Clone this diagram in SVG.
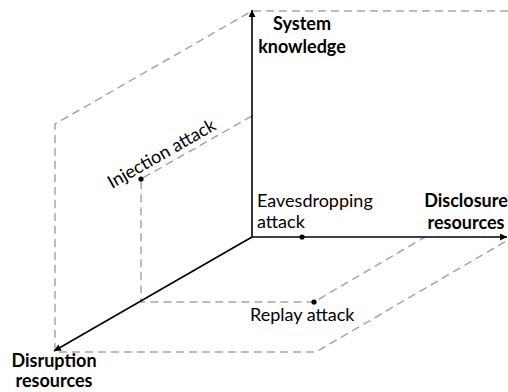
<svg xmlns="http://www.w3.org/2000/svg" width="508" height="392" viewBox="0 0 508 392">
<defs>
<style>
.axis{stroke:#000;stroke-width:1.6;fill:none}
.dash{stroke:#a6a6a6;stroke-width:1.5;fill:none;stroke-dasharray:8 5}
.t{font-family:Lato,"Liberation Sans",sans-serif;font-size:18px;fill:#000}
.b{font-weight:bold;text-anchor:middle}
.dot{fill:#000}
</style>
<marker id="arr" viewBox="0 0 10 10" refX="10" refY="5" markerWidth="10" markerHeight="7" markerUnits="userSpaceOnUse" orient="auto">
<path d="M0,0 L10,5 L0,10 Z" fill="#000"/>
</marker>
</defs>
<rect width="508" height="392" fill="#fff"/>
<g id="connectors">
<path class="dash" d="M508,11 L252,11 L55,124 L55,352 L316,352 L508,240"/>
<path class="dash" d="M252,116 L141,179 L141,302 L314,302 L425,237"/>
<line class="axis" x1="252" y1="237" x2="252" y2="10" marker-end="url(#arr)"/>
<line class="axis" x1="252" y1="237" x2="507" y2="237" marker-end="url(#arr)"/>
<line class="axis" x1="252" y1="237" x2="54" y2="351" marker-end="url(#arr)"/>
</g>
<g id="system-knowledge">
<text class="t b" x="302" y="30">System</text>
<text class="t b" x="302" y="53">knowledge</text>
</g>
<g id="disclosure-resources">
<text class="t b" x="466" y="207">Disclosure</text>
<text class="t b" x="466" y="229">resources</text>
</g>
<g id="disruption-resources">
<text class="t b" x="54" y="367">Disruption</text>
<text class="t b" x="54" y="387">resources</text>
</g>
<g id="eavesdropping-attack">
<circle class="dot" cx="302" cy="237" r="2.6"/>
<text class="t" x="257" y="207">Eavesdropping</text>
<text class="t" x="257" y="228">attack</text>
</g>
<g id="injection-attack">
<circle class="dot" cx="141" cy="179" r="2.6"/>
<text class="t" x="112" y="189" transform="rotate(-29.7 112 189)">Injection attack</text>
</g>
<g id="replay-attack">
<circle class="dot" cx="314" cy="302" r="2.6"/>
<text class="t" x="250" y="321">Replay attack</text>
</g>
</svg>
